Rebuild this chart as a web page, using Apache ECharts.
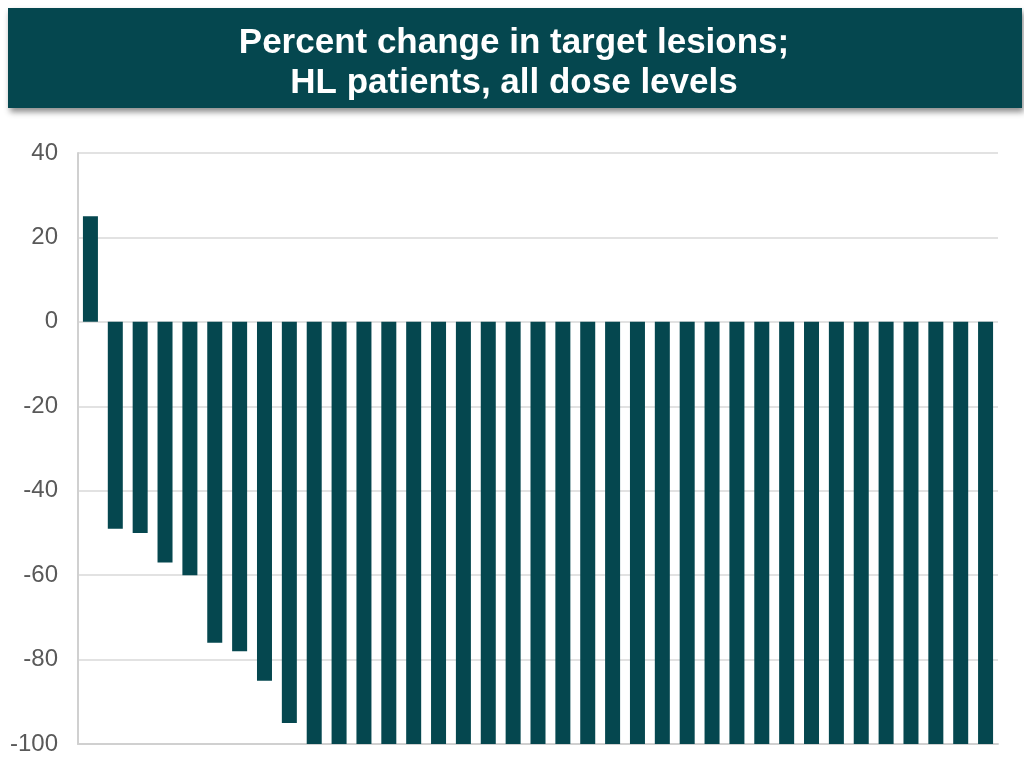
<!DOCTYPE html>
<html>
<head>
<meta charset="utf-8">
<script src="https://cdn.jsdelivr.net/npm/echarts@6/dist/echarts.min.js"></script>
<style>
  html, body { margin: 0; padding: 0; background: #ffffff; }
  #chart { width: 1024px; height: 761px; }
</style>
</head>
<body>
<div id="chart"></div>
<script>
// Per-patient percent change in target lesions (waterfall, best response)
const patients = Array.from({ length: 37 }, (_, i) => 'P' + (i + 1));
const pctChange = [
  25, -49, -50, -57, -60, -76, -78, -85, -95,
  -100, -100, -100, -100, -100, -100, -100, -100, -100, -100,
  -100, -100, -100, -100, -100, -100, -100, -100, -100, -100,
  -100, -100, -100, -100, -100, -100, -100, -100
];
const yTicks = { min: -100, max: 40, step: 20 };
const titleLines = ['Percent change in target lesions;', 'HL patients, all dose levels'];

const teal = '#05474f';

const chart = echarts.init(document.getElementById('chart'), null, { renderer: 'canvas' });
chart.setOption({
  animation: false,
  backgroundColor: '#ffffff',
  graphic: [
    {
      type: 'rect',
      shape: { x: 8, y: 8, width: 1014, height: 100 },
      style: {
        fill: teal,
        shadowBlur: 6,
        shadowOffsetX: 2,
        shadowOffsetY: 4,
        shadowColor: 'rgba(0,0,0,0.45)'
      },
      z: 10
    },
    {
      type: 'text',
      x: 514,
      y: 63,
      style: {
        text: titleLines.join('\n'),
        fill: '#ffffff',
        font: 'bold 35px "Liberation Sans", Arial, sans-serif',
        lineHeight: 40,
        align: 'center',
        verticalAlign: 'middle'
      },
      z: 11
    }
  ],
  grid: { left: 78, right: 26, top: 153, bottom: 17, containLabel: false },
  xAxis: {
    type: 'category',
    data: patients,
    position: 'bottom',
    axisLine: { onZero: false, lineStyle: { color: '#d0d0d0', width: 2 } },
    axisTick: { show: false },
    axisLabel: { show: false }
  },
  yAxis: {
    type: 'value',
    min: yTicks.min,
    max: yTicks.max,
    interval: yTicks.step,
    axisLine: { show: true, lineStyle: { color: '#d0d0d0', width: 2 } },
    axisTick: { show: false },
    splitLine: { lineStyle: { color: '#d9d9d9', width: 1.5 } },
    axisLabel: {
      color: '#595959',
      fontSize: 24,
      fontFamily: '"Liberation Sans", Arial, sans-serif',
      margin: 20
    }
  },
  series: [{
    type: 'bar',
    data: pctChange,
    barWidth: 15,
    itemStyle: { color: teal }
  }]
});
</script>
</body>
</html>
